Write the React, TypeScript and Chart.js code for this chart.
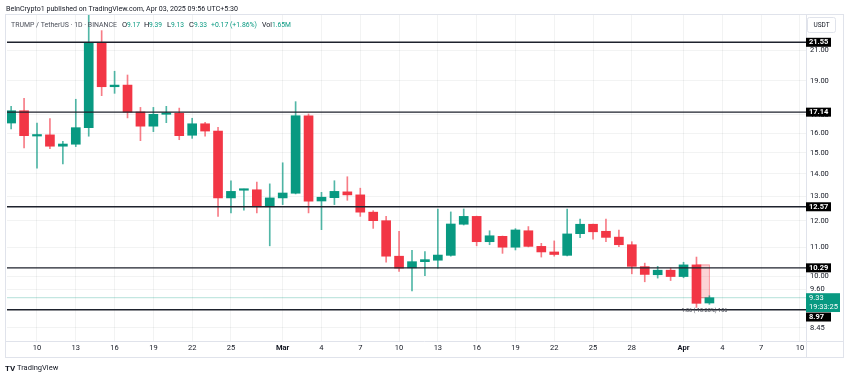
import React, { useEffect, useRef } from 'react';
import { Chart, registerables } from 'chart.js';

Chart.register(...registerables);

// ---- data ----
// day number: Feb 1 = 1 ... Mar 1 = 29 ... Apr 1 = 60
const days = [8, 9, 10, 11, 12, 13, 14, 15, 16, 17, 18, 19, 20, 21, 22, 23, 24, 25, 26, 27, 28,
  29, 30, 31, 32, 33, 34, 35, 36, 37, 38, 39, 40, 41, 42, 43, 44, 45, 46, 47, 48, 49, 50, 51, 52, 53, 54, 55, 56, 57, 58, 59,
  60, 61, 62];
const opens = [16.54, 17.22, 15.85, 15.91, 15.33, 15.43, 16.29, 21.55, 18.63, 18.73, 17.15, 16.37, 17.02, 17.08, 15.89, 16.5, 16.11, 12.94, 13.27, 13.29, 12.57,
  12.94, 13.14, 16.94, 12.81, 12.95, 13.2, 13.07, 12.35, 12.01, 10.69, 10.29, 10.5, 10.55, 10.72, 11.87, 12.18, 11.21, 11.41, 11.01, 11.62, 11.04, 10.84, 10.72, 11.51, 11.87, 11.6, 11.38, 11.1, 10.33, 10.06,
  10.21, 10.0, 10.39, 9.17];
const highs = [17.47, 17.94, 16.54, 16.78, 15.58, 17.88, 23.9, 22.39, 19.6, 19.36, 17.41, 17.41, 17.47, 17.37, 16.8, 16.58, 16.31, 13.69, 13.32, 13.63, 13.55,
  14.52, 17.74, 17.04, 13.18, 13.69, 13.87, 13.36, 12.41, 12.18, 11.6, 10.9, 10.85, 12.48, 12.36, 12.48, 12.19, 11.62, 11.42, 11.7, 11.78, 11.15, 11.24, 12.48, 12.07, 11.88, 12.07, 11.65, 11.21, 10.45, 10.34,
  10.28, 10.48, 10.66, 9.39];
const lows = [16.22, 15.25, 14.26, 15.21, 14.46, 15.31, 15.84, 18.09, 18.23, 16.82, 15.61, 16.08, 16.56, 15.66, 15.73, 15.84, 12.18, 12.32, 12.43, 12.32, 11.06,
  12.66, 13.11, 12.32, 11.66, 12.66, 12.84, 12.18, 11.71, 10.48, 10.17, 9.54, 10.03, 10.28, 10.69, 11.84, 11.06, 11.1, 10.79, 10.91, 11.02, 10.66, 10.69, 10.7, 11.36, 11.3, 11.21, 11.03, 10.09, 9.83, 9.95,
  9.87, 9.96, 9.04, 9.13];
const closes = [17.22, 15.87, 15.9, 15.33, 15.44, 16.29, 21.55, 18.63, 18.73, 17.14, 16.37, 17.02, 17.1, 15.87, 16.5, 16.11, 12.94, 13.22, 13.31, 12.57, 12.94,
  13.15, 16.94, 12.8, 12.97, 13.22, 13.07, 12.35, 12.01, 10.69, 10.28, 10.5, 10.57, 10.73, 11.88, 12.18, 11.21, 11.43, 11.01, 11.65, 11.04, 10.84, 10.75, 11.5, 11.87, 11.58, 11.37, 11.1, 10.34, 10.07, 10.21,
  10.0, 10.39, 9.16, 9.33];

const xTickValues = [10, 13, 16, 19, 22, 25, 29, 32, 35, 38, 41, 44, 47, 50, 53, 56, 60, 63, 66, 69];
const xTickLabels = ['10', '13', '16', '19', '22', '25', 'Mar', '4', '7', '10', '13', '16', '19', '22', '25', '28', 'Apr', '4', '7', '10'];
const monthTicks = ['Mar', 'Apr'];
const yTickValues = [21, 19, 17, 16, 15, 14, 13, 12, 11, 10, 9.6, 8.45];
const levelLines = [21.55, 17.14, 12.57, 10.29, 8.97];
const countdown = '19:33:25';
const measureStartDay = 61;
const measureEndDay = 62;
const measureFrom = 10.39;
const measureTo = 9.33;
const measureLabel = '1.06 (-10.20%) 106';
const headerTitle = 'BeInCrypto1 published on TradingView.com, Apr 03, 2025 09:56 UTC+5:30';
const legendSymbol = 'TRUMP / TetherUS · 1D · BINANCE';
const legendVolume = '1.65M';
const quoteCurrency = 'USDT';

const GREEN = '#089981';
const RED = '#f23645';
const TEXT = '#131722';
const FONT = 'Roboto, "Noto Sans", sans-serif';

const X_MIN = 7.68;
const X_MAX = 69.47;
const Y_MIN = 8.096;
const Y_MAX = 23.567;

const overlayPlugin = {
  id: 'tvOverlay',
  beforeDatasetsDraw(chart: any) {
    const { ctx, chartArea } = chart;
    const xs = chart.scales.x;
    const ys = chart.scales.y;
    ctx.save();
    ctx.beginPath();
    ctx.rect(chartArea.left, chartArea.top, chartArea.right - chartArea.left, chartArea.bottom - chartArea.top);
    ctx.clip();
    // last price line
    const py = ys.getPixelForValue(closes[closes.length - 1]);
    ctx.strokeStyle = 'rgba(8,153,129,0.3)';
    ctx.lineWidth = 1;
    ctx.beginPath();
    ctx.moveTo(chartArea.left, py);
    ctx.lineTo(chartArea.right, py);
    ctx.stroke();
    // measure rectangle
    const x1 = xs.getPixelForValue(measureStartDay);
    const x2 = xs.getPixelForValue(measureEndDay);
    const y1 = ys.getPixelForValue(measureFrom);
    const y2 = ys.getPixelForValue(measureTo);
    ctx.fillStyle = 'rgba(242,54,69,0.22)';
    ctx.fillRect(x1, y1, x2 - x1, y2 - y1);
    ctx.strokeStyle = 'rgba(242,54,69,0.45)';
    ctx.strokeRect(x1, y1, x2 - x1, y2 - y1);
    ctx.restore();
  },
  afterDatasetsDraw(chart: any) {
    const { ctx, chartArea } = chart;
    const xs = chart.scales.x;
    const ys = chart.scales.y;
    ctx.save();
    ctx.strokeStyle = '#1e222d';
    ctx.lineWidth = 1.4;
    levelLines.forEach((v) => {
      const y = ys.getPixelForValue(v);
      ctx.beginPath();
      ctx.moveTo(chartArea.left, y);
      ctx.lineTo(chartArea.right, y);
      ctx.stroke();
    });
    // measure label
    const x2 = xs.getPixelForValue(measureEndDay);
    const y2 = ys.getPixelForValue(measureTo);
    ctx.fillStyle = '#434651';
    ctx.font = `5.5px ${FONT}`;
    ctx.textAlign = 'center';
    ctx.textBaseline = 'middle';
    ctx.fillText(measureLabel, x2 - 5, y2 + 13, 52);
    ctx.restore();
  },
  afterDraw(chart: any) {
    const { ctx, chartArea } = chart;
    const ys = chart.scales.y;
    ctx.save();
    // frame & separators
    ctx.strokeStyle = '#e0e3eb';
    ctx.lineWidth = 1;
    ctx.strokeRect(5.5, 14.5, 838, 343);
    ctx.beginPath();
    ctx.moveTo(chartArea.right + 0.5, 14.5);
    ctx.lineTo(chartArea.right + 0.5, 357.5);
    ctx.moveTo(5.5, chartArea.bottom + 0.5);
    ctx.lineTo(843.5, chartArea.bottom + 0.5);
    ctx.stroke();

    // current price box
    const last = closes[closes.length - 1];
    const py = ys.getPixelForValue(last);
    const gTop = py - 4.5;
    const gBottom = py + 14.3;
    ctx.fillStyle = GREEN;
    ctx.fillRect(chartArea.right, gTop, 34, gBottom - gTop);
    ctx.fillStyle = '#ffffff';
    ctx.font = `7.5px ${FONT}`;
    ctx.textAlign = 'left';
    ctx.textBaseline = 'middle';
    ctx.fillText(last.toFixed(2), chartArea.right + 3, py, 28);
    ctx.fillText(countdown, chartArea.right + 3, py + 9.5, 30);

    // level labels
    levelLines.forEach((v) => {
      let cy = ys.getPixelForValue(v);
      let top = cy - 4.5;
      if (top < gBottom && top + 9 > gTop) {
        top = gBottom + 0.5;
        cy = top + 4.5;
      }
      ctx.fillStyle = '#000000';
      ctx.fillRect(chartArea.right, top, 25, 9);
      ctx.fillStyle = '#ffffff';
      ctx.font = `bold 7.5px ${FONT}`;
      ctx.fillText(v.toFixed(2), chartArea.right + 3, cy + 0.3, 21);
    });

    // USDT box
    ctx.strokeStyle = '#e0e3eb';
    ctx.beginPath();
    (ctx as any).roundRect(807.5, 17.5, 28, 15, 2);
    ctx.stroke();
    ctx.fillStyle = TEXT;
    ctx.font = `6.5px ${FONT}`;
    ctx.textAlign = 'center';
    ctx.fillText(quoteCurrency, 821.5, 25.5);

    // header
    ctx.textAlign = 'left';
    ctx.fillStyle = TEXT;
    ctx.font = `7.5px ${FONT}`;
    ctx.fillText(headerTitle, 6, 9.5, 232);
    const n = closes.length - 1;
    const chg = closes[n] - closes[n - 1];
    const pct = (chg / closes[n - 1]) * 100;
    const sign = chg >= 0 ? '+' : '-';
    const valColor = chg >= 0 ? GREEN : RED;
    const parts: [string, number, string, number][] = [
      [legendSymbol, 11, '#4a4e59', 106],
      ['O', 122, TEXT, 6], [opens[n].toFixed(2), 127, valColor, 13],
      ['H', 144, TEXT, 6], [highs[n].toFixed(2), 149, valColor, 13],
      ['L', 167, TEXT, 5], [lows[n].toFixed(2), 171, valColor, 13],
      ['C', 189, TEXT, 6], [closes[n].toFixed(2), 194, valColor, 13],
      [`${sign}${Math.abs(chg).toFixed(2)} (${sign}${Math.abs(pct).toFixed(2)}%)`, 211, valColor, 46],
      ['Vol', 262, TEXT, 10], [legendVolume, 272, valColor, 19],
    ];
    ctx.font = `7.5px ${FONT}`;
    parts.forEach(([t, x, c, w]) => {
      ctx.fillStyle = c;
      ctx.fillText(t, x, 25.5, w);
    });

    // footer logo
    ctx.fillStyle = TEXT;
    ctx.font = `bold 8px ${FONT}`;
    ctx.fillText('TV', 5, 368.5, 11);
    ctx.font = `7.5px ${FONT}`;
    ctx.fillText('TradingView', 17, 368.5, 44);
    ctx.restore();
  },
};

export default function App() {
  const ref = useRef<HTMLCanvasElement | null>(null);

  useEffect(() => {
    if (!ref.current) return;
    const bodyColors = closes.map((c, i) => (c >= opens[i] ? GREEN : RED));
    const wickColors = closes.map((c, i) => (c >= opens[i] ? 'rgba(8,153,129,0.7)' : 'rgba(242,54,69,0.65)'));
    const bodies = days.map((d, i) => ({ x: d, y: [opens[i], closes[i]] }));
    const wicks = days.map((d, i) => ({ x: d, y: [lows[i], highs[i]] }));

    const chart = new Chart(ref.current, {
      type: 'bar',
      data: {
        datasets: [
          {
            label: 'body',
            data: bodies as any,
            backgroundColor: bodyColors,
            borderWidth: 0,
            barThickness: 9,
            grouped: false,
            minBarLength: 1.5,
          } as any,
          {
            label: 'wick',
            data: wicks as any,
            backgroundColor: wickColors,
            borderWidth: 0,
            barThickness: 1,
            grouped: false,
          } as any,
        ],
      },
      options: {
        responsive: false,
        animation: false,
        devicePixelRatio: 1,
        layout: { padding: { left: 7, top: 15, right: 0, bottom: 0 } },
        plugins: { legend: { display: false }, tooltip: { enabled: false } },
        scales: {
          x: {
            type: 'linear',
            min: X_MIN,
            max: X_MAX,
            bounds: 'data',
            offset: false,
            grid: { color: 'rgba(42,46,57,0.06)', drawTicks: false, offset: false },
            border: { display: false },
            afterBuildTicks: (s: any) => {
              s.ticks = xTickValues.map((v) => ({ value: v }));
            },
            afterFit: (s: any) => {
              s.height = 37;
            },
            ticks: {
              autoSkip: false,
              maxRotation: 0,
              padding: 3,
              color: TEXT,
              font: (c: any) => {
                const idx = xTickValues.indexOf(c.tick ? c.tick.value : -1);
                const lbl = idx >= 0 ? xTickLabels[idx] : '';
                return { family: FONT, size: 7.5, weight: monthTicks.includes(lbl) ? 'bold' : 'normal' };
              },
              callback: (v: any) => {
                const idx = xTickValues.indexOf(Number(v));
                return idx >= 0 ? xTickLabels[idx] : '';
              },
            },
          } as any,
          y: {
            type: 'logarithmic',
            position: 'right',
            min: Y_MIN,
            max: Y_MAX,
            bounds: 'data',
            grid: { color: 'rgba(42,46,57,0.06)', drawTicks: false },
            border: { display: false },
            afterBuildTicks: (s: any) => {
              s.ticks = yTickValues.map((v) => ({ value: v }));
            },
            afterFit: (s: any) => {
              s.width = 44;
            },
            ticks: {
              autoSkip: false,
              padding: 4,
              color: TEXT,
              crossAlign: 'near',
              font: { family: FONT, size: 7.5 },
              callback: (v: any) => Number(v).toFixed(2),
            },
          } as any,
        },
      },
      plugins: [overlayPlugin],
    });
    return () => chart.destroy();
  }, []);

  return (
    <div style={{ position: 'fixed', left: 0, top: 0, width: 850, height: 378, background: '#ffffff' }}>
      <canvas ref={ref} width={850} height={378} style={{ width: 850, height: 378, display: 'block' }} />
    </div>
  );
}
